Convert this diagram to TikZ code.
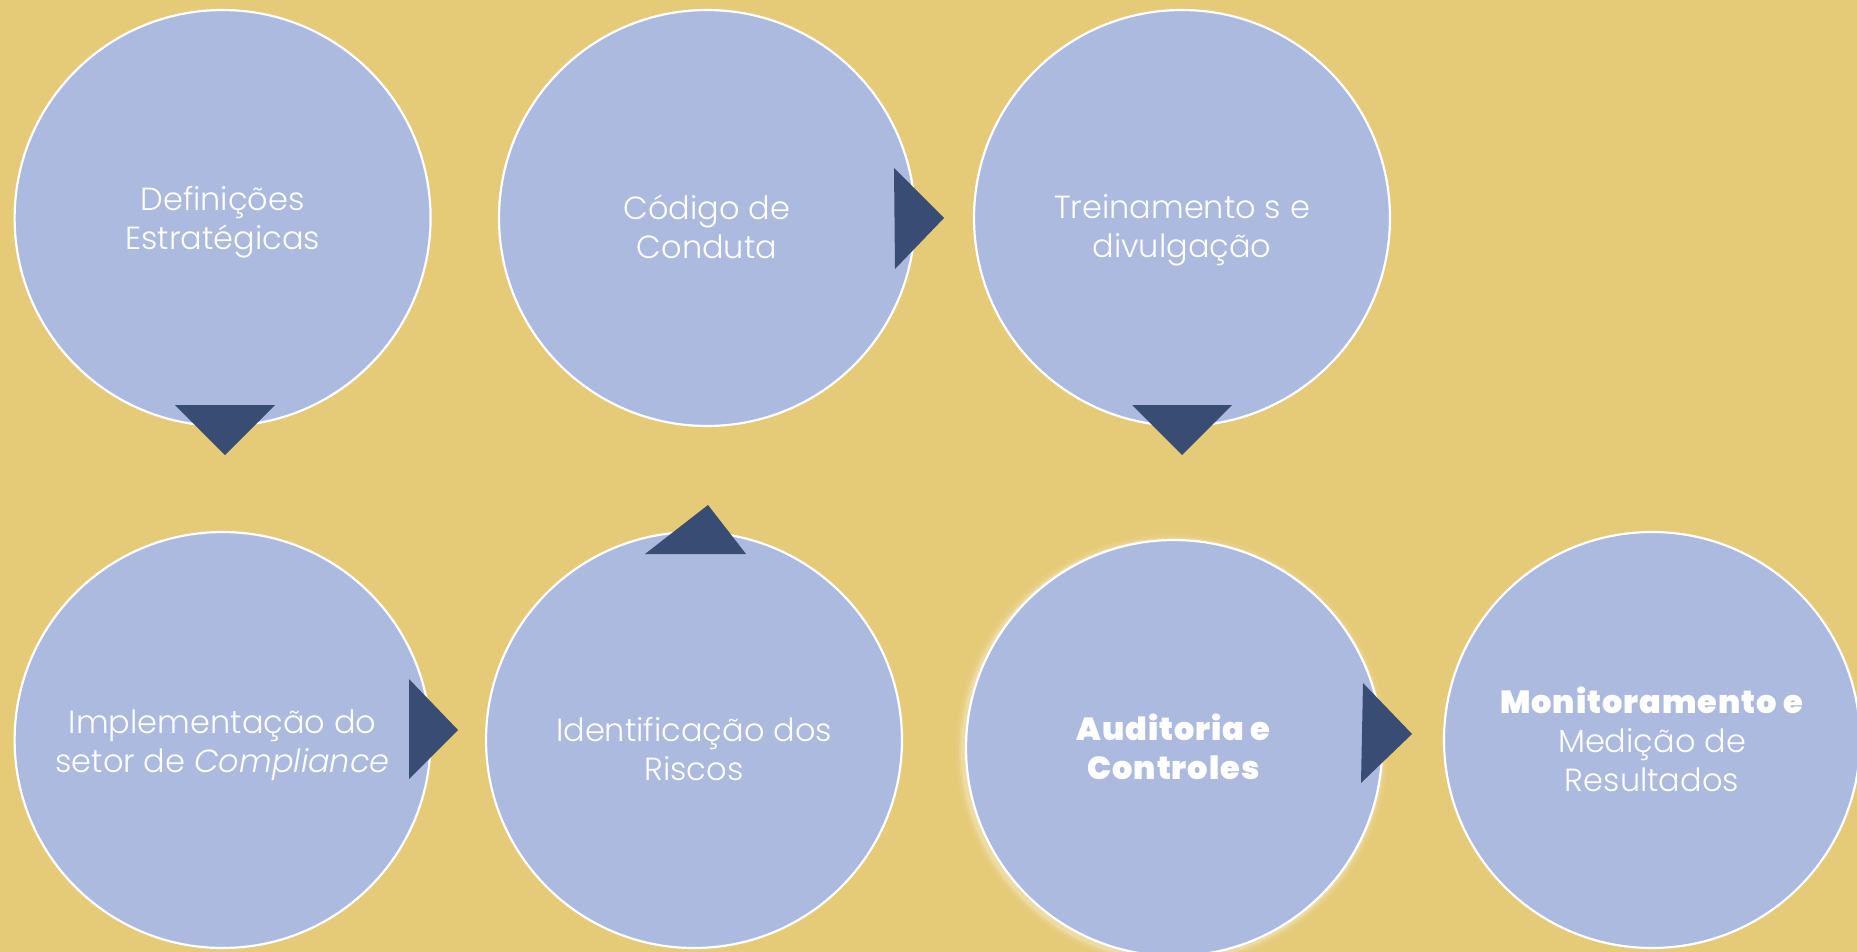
\documentclass[tikz,border=0pt]{standalone}
\usepackage{fontspec}
\setmainfont{Poppins}[UprightFont=* Light, ItalicFont=* Light Italic, BoldFont=* Black, BoldFeatures={LetterSpace=3}]
\definecolor{bg}{HTML}{E5CA78}
\definecolor{disc}{HTML}{ACBADF}
\definecolor{tri}{HTML}{394C74}
\begin{document}
\begin{tikzpicture}[x=1pt,y=-1pt,
  stage/.style={circle,draw=white,line width=2.2pt,fill=disc,minimum size=416pt,inner sep=0pt},
  caption/.style={text=white,align=center,inner sep=0pt,font=\fontsize{32}{39}\selectfont},
  marker/.style={fill=tri,draw=none}]
\fill[bg] (0,0) rectangle (1857,952);
\useasboundingbox (0,0) rectangle (1857,952);
% soft glow for Auditoria
\foreach \r/\o in {216/0.06,213/0.12,211/0.2}
  \fill[white,opacity=\o] (1172,750) circle (\r);
\node[stage] (def) at (222.6,218) {};
\node[stage] (cod) at (707,218) {};
\node[stage] (tre) at (1182,218) {};
\node[stage] (imp) at (222.6,740) {};
\node[stage] (ide) at (694,740) {};
\node[stage] (aud) at (1174,748) {};
\node[stage] (mon) at (1652,740) {};
% captions
\node[caption] (deft) at ([yshift=-4pt]def.center) {Definições\\Estratégicas};
\node[caption] (codt) at ([yshift=-9pt]cod.center) {Código de\\Conduta};
\node[caption] (tret) at ([yshift=-12.5pt]tre.center) {Treinamento s e\\divulgação};
\node[caption] (impt) at ([yshift=-5pt]imp.center) {Implementação do\\setor de \textit{Compliance}};
\node[caption] (idet) at ([yshift=-9pt]ide.center) {Identificação dos\\Riscos};
\node[caption] (audt) at ([yshift=1pt]aud.center) {\textbf{Auditoria e}\\\textbf{Controles}};
\node[caption] (mont) at ([yshift=1pt]mon.center) {\textbf{Monitoramento e}\\Medição de\\Resultados};
% markers
\fill[marker] (175,405) -- (275,405) -- (225,455) -- cycle;
\fill[marker] (894,168) -- (944,218) -- (895,269) -- cycle;
\fill[marker] (1132,405) -- (1232,405) -- (1182,455) -- cycle;
\fill[marker] (409,679) -- (458,730) -- (409,779) -- cycle;
\fill[marker] (645,554) -- (746,554) -- (708,505) -- cycle;
\fill[marker] (1363,683) -- (1412,734) -- (1361,783) -- cycle;
\end{tikzpicture}
\end{document}
